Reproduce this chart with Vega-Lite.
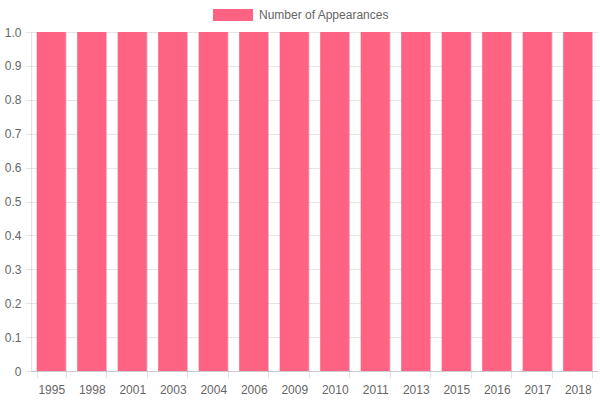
{
  "$schema": "https://vega.github.io/schema/vega-lite/v6.json",
  "autosize": {"type": "none"},
  "width": 567,
  "height": 339,
  "padding": {"left": 31, "top": 32, "right": 2, "bottom": 29},
  "background": "white",
  "data": {
    "values": [
      {"year": "1995", "count": 1, "series": "Number of Appearances"},
      {"year": "1998", "count": 1, "series": "Number of Appearances"},
      {"year": "2001", "count": 1, "series": "Number of Appearances"},
      {"year": "2003", "count": 1, "series": "Number of Appearances"},
      {"year": "2004", "count": 1, "series": "Number of Appearances"},
      {"year": "2006", "count": 1, "series": "Number of Appearances"},
      {"year": "2009", "count": 1, "series": "Number of Appearances"},
      {"year": "2010", "count": 1, "series": "Number of Appearances"},
      {"year": "2011", "count": 1, "series": "Number of Appearances"},
      {"year": "2013", "count": 1, "series": "Number of Appearances"},
      {"year": "2015", "count": 1, "series": "Number of Appearances"},
      {"year": "2016", "count": 1, "series": "Number of Appearances"},
      {"year": "2017", "count": 1, "series": "Number of Appearances"},
      {"year": "2018", "count": 1, "series": "Number of Appearances"}
    ]
  },
  "mark": {"type": "bar"},
  "encoding": {
    "x": {
      "field": "year",
      "type": "ordinal",
      "sort": null,
      "title": null,
      "scale": {"paddingInner": 0.28, "paddingOuter": 0.14},
      "axis": {
        "labelAngle": 0,
        "tickBand": "extent",
        "grid": true,
        "tickSize": 7,
        "labelPadding": 6
      }
    },
    "y": {
      "field": "count",
      "type": "quantitative",
      "title": null,
      "scale": {"domain": [0, 1], "nice": false},
      "axis": {
        "values": [0, 0.1, 0.2, 0.3, 0.4, 0.5, 0.6, 0.7, 0.8, 0.9, 1.0],
        "labelExpr": "datum.value == 0 ? '0' : format(datum.value, '.1f')",
        "tickSize": 6,
        "labelPadding": 4
      }
    },
    "color": {
      "field": "series",
      "type": "nominal",
      "scale": {"range": ["#FF6384"]},
      "legend": {
        "title": null,
        "orient": "none",
        "legendX": 182,
        "legendY": -37,
        "symbolType": "M-1,-0.3H1V0.3H-1Z",
        "symbolSize": 1600,
        "symbolStrokeWidth": 0,
        "symbolOpacity": 1,
        "labelOffset": 6,
        "labelFontSize": 12,
        "labelColor": "#666666",
        "labelFont": "Liberation Sans"
      }
    }
  },
  "config": {
    "view": {"stroke": null},
    "axis": {
      "labelFont": "Liberation Sans",
      "labelFontSize": 12,
      "labelColor": "#666666",
      "gridColor": "#000000",
      "gridOpacity": 0.1,
      "tickColor": "#000000",
      "tickOpacity": 0.1,
      "domainColor": "#000000",
      "domainOpacity": 0.1
    }
  }
}
